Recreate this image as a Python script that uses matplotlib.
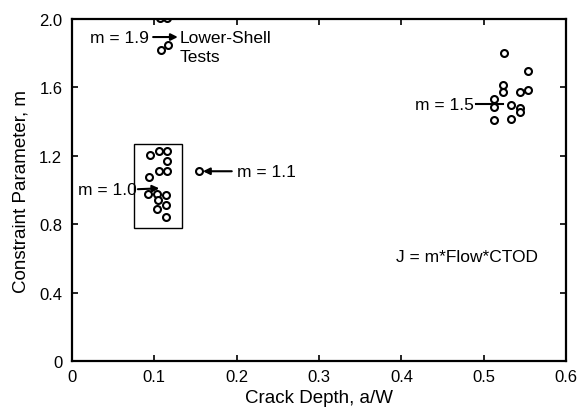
import matplotlib
matplotlib.use("Agg")
import matplotlib.pyplot as plt
from matplotlib.patches import Rectangle

plt.rcParams['font.family'] = ['Liberation Sans', 'DejaVu Sans']

# shallow crack group (m = 1.0)
x_shallow = [0.0947, 0.1056, 0.1157, 0.115, 0.1056, 0.115, 0.094, 0.0926,
             0.103, 0.114, 0.1048, 0.114, 0.1036, 0.114]
y_shallow = [1.206, 1.226, 1.226, 1.168, 1.109, 1.109, 1.074, 0.977,
             0.977, 0.971, 0.943, 0.914, 0.889, 0.840]

# single point (m = 1.1)
x_single = [0.1545]
y_single = [1.11]

# lower-shelf tests (m = 1.9), top two are cut off by the frame
x_lower = [0.107, 0.115, 0.108, 0.1165]
y_lower = [2.008, 2.008, 1.82, 1.85]

# deep crack group (m = 1.5)
x_deep = [0.5247, 0.5538, 0.5235, 0.5235, 0.5437, 0.5538, 0.513, 0.513,
          0.5336, 0.5437, 0.5437, 0.513, 0.5336]
y_deep = [1.80, 1.698, 1.616, 1.571, 1.571, 1.585, 1.532, 1.483,
          1.499, 1.478, 1.455, 1.411, 1.415]

xticks = [0, 0.1, 0.2, 0.3, 0.4, 0.5, 0.6]
xticklabels = ['0', '0.1', '0.2', '0.3', '0.4', '0.5', '0.6']
yticks = [0, 0.4, 0.8, 1.2, 1.6, 2.0]
yticklabels = ['0', '0.4', '0.8', '1.2', '1.6', '2.0']

fig = plt.figure(figsize=(5.83, 4.10), dpi=100)
ax = fig.add_axes([0.1235, 0.117, 0.8475, 0.834])

mk = dict(linestyle='none', marker='o', markersize=5, markerfacecolor='white',
          markeredgecolor='black', markeredgewidth=1.5)
ax.plot(x_shallow, y_shallow, **mk)
ax.plot(x_single, y_single, **mk)
ax.plot(x_lower, y_lower, **mk)
ax.plot(x_deep, y_deep, **mk)

# box around shallow group
ax.add_patch(Rectangle((0.075, 0.78), 0.0585, 0.49, fill=False,
                       edgecolor='black', linewidth=1.0))

arrow = dict(arrowstyle='-|>', color='black', lw=1.5, mutation_scale=10,
             shrinkA=0, shrinkB=0)
fs = 12.5
ax.annotate('', xy=(0.1285, 1.895), xytext=(0.0985, 1.895), arrowprops=arrow)
ax.text(0.0935, 1.895, 'm = 1.9', fontsize=fs, va='center', ha='right')
ax.text(0.131, 1.895, 'Lower-Shell', fontsize=fs, va='center', ha='left')
ax.text(0.131, 1.78, 'Tests', fontsize=fs, va='center', ha='left')

ax.annotate('', xy=(0.106, 1.01), xytext=(0.080, 1.005), arrowprops=arrow)
ax.text(0.0785, 1.005, 'm = 1.0', fontsize=fs, va='center', ha='right')

ax.annotate('', xy=(0.159, 1.11), xytext=(0.194, 1.11), arrowprops=arrow)
ax.text(0.200, 1.11, 'm = 1.1', fontsize=fs, va='center', ha='left')

ax.plot([0.4905, 0.523], [1.503, 1.503], color='black', lw=1.5)
ax.text(0.4885, 1.503, 'm = 1.5', fontsize=fs, va='center', ha='right')

ax.text(0.393, 0.614, 'J = m*Flow*CTOD', fontsize=fs, va='center', ha='left')

ax.set_xlim(0, 0.6)
ax.set_ylim(0, 2.0)
ax.set_xticks(xticks)
ax.set_xticklabels(xticklabels)
ax.set_yticks(yticks)
ax.set_yticklabels(yticklabels)
ax.tick_params(direction='in', length=4, width=1.2, labelsize=12,
               top=True, right=True)
ax.tick_params(axis='x', pad=6)
ax.tick_params(axis='y', pad=7)
for s in ax.spines.values():
    s.set_linewidth(1.6)

ax.set_xlabel('Crack Depth, a/W', fontsize=13.5, labelpad=3)
ax.set_ylabel('Constraint Parameter, m', fontsize=13.5, labelpad=7)

fig.savefig('out.png', dpi=100)
